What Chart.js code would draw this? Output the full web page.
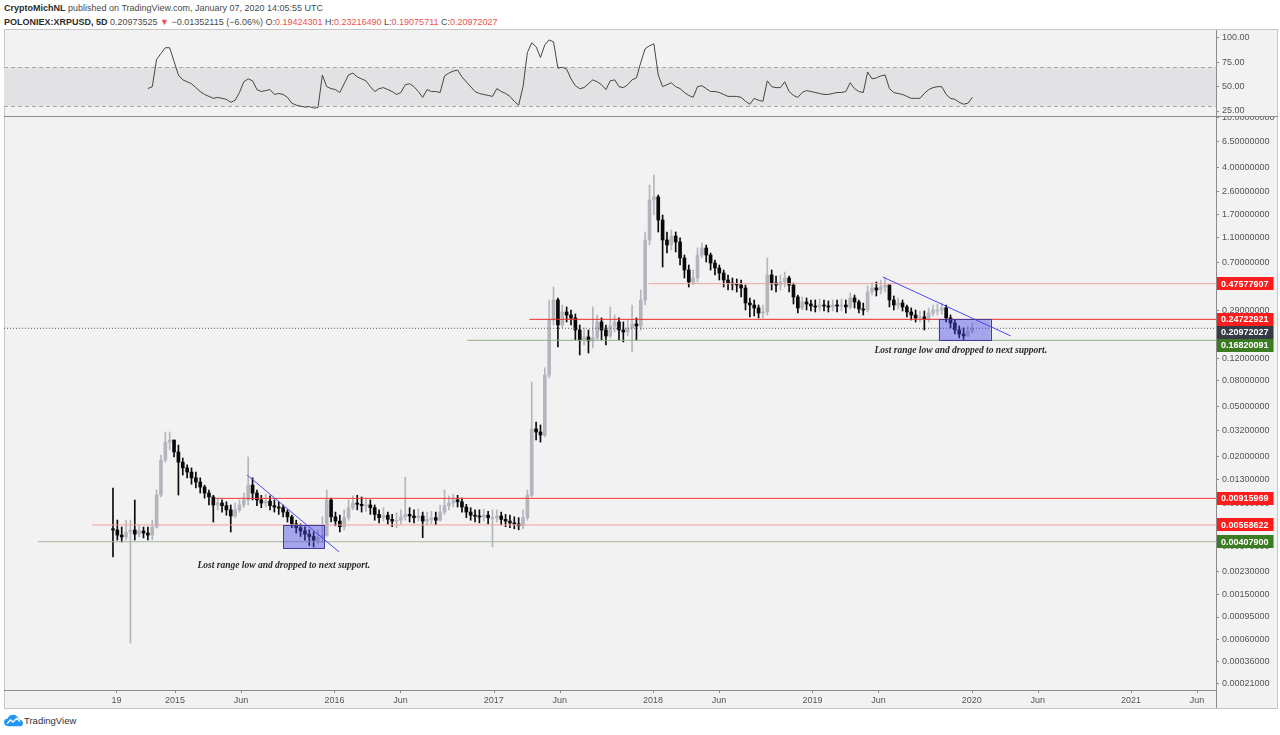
<!DOCTYPE html>
<html>
<head>
<meta charset="utf-8">
<script src="https://cdn.jsdelivr.net/npm/chart.js@4.4.1/dist/chart.umd.min.js"></script>
<style>
  body { margin: 0; width: 1280px; height: 735px; background: #fff; overflow: hidden; position: relative;
         font-family: "Liberation Sans", Arial, sans-serif; }
  .hdr { position: absolute; left: 4px; font-size: 9px; line-height: 12px; color: #4a4a4a; white-space: nowrap; }
  .hdr b { color: #2b2b2b; }
  .red { color: #f0504d; }
  #frame { position: absolute; left: 4px; top: 29px; width: 1274px; height: 680px; background: #f2f2f2;
           border: 1px solid #c6c6c6; box-sizing: border-box; }
  .ln { position: absolute; background: #8c8c8c; }
  canvas { position: absolute; left: 4px; }
  #logo { position: absolute; left: 4px; top: 714px; }
  #logoTxt { position: absolute; left: 24px; top: 715px; font-size: 9.5px; color: #333; }
</style>
</head>
<body>
<div class="hdr" style="top:2px"><b>CryptoMichNL</b> published on TradingView.com, January 07, 2020 14:05:55 UTC</div>
<div class="hdr" style="top:16px"><b>POLONIEX:XRPUSD, 5D</b> 0.20973525 <span class="red">▼</span> −0.01352115 (−6.06%) O:<span class="red">0.19424301</span> H:<span class="red">0.23216490</span> L:<span class="red">0.19075711</span> C:<span class="red">0.20972027</span></div>
<div id="frame"></div>
<canvas id="rsi" width="1274" height="87" style="top:30px"></canvas>
<canvas id="main" width="1274" height="591" style="top:117px"></canvas>
<div class="ln" style="left:4px;top:116px;width:1274px;height:1px"></div>
<div class="ln" style="left:1216px;top:690px;width:1px;height:18px"></div>
<svg id="logo" width="19" height="13" viewBox="0 0 36 24">
  <path d="M8 23C3 23 0 19 0 15C0 11 3 8 7 8C9 3 13 1 17 1C23 1 27 5 28 10C32 10 36 13 36 17C36 21 33 23 30 23Z" fill="#2196f3"/>
  <polyline points="6,18 12,11 17,15 24,8 30,14" fill="none" stroke="#fff" stroke-width="2.6"/>
</svg>
<div id="logoTxt">TradingView</div>

<script>
// ---- data (XRPUSD, Poloniex) ----
const firstBarYear = 2014.61;
const barStepDays = 10;
const firstOpen = 0.0052;

const closes = [
  0.00508, 0.00462, 0.00446, 0.00489, 0.00508, 0.00471, 0.00499, 0.0048, 0.00462, 0.00537,
  0.00974, 0.0186, 0.0259, 0.0269, 0.0216, 0.0179, 0.0161, 0.0149, 0.0134, 0.0124,
  0.0113, 0.0101, 0.0094, 0.0081, 0.0084, 0.0080, 0.0074, 0.0066, 0.0074, 0.0081,
  0.0089, 0.0117, 0.0101, 0.0089, 0.0084, 0.0087, 0.0080, 0.0078, 0.0077, 0.0071,
  0.0065, 0.0057, 0.0053, 0.0050, 0.0047, 0.0045, 0.0042, 0.0044, 0.0046, 0.0089,
  0.0065, 0.0060, 0.0054, 0.0064, 0.0077, 0.0084, 0.0082, 0.0080, 0.0081, 0.0077,
  0.0068, 0.0064, 0.0067, 0.0062, 0.0060, 0.0061, 0.0065, 0.0068, 0.0066, 0.0064,
  0.0066, 0.0060, 0.0062, 0.0064, 0.0061, 0.0071, 0.0080, 0.0084, 0.0089, 0.0086,
  0.0078, 0.0071, 0.0067, 0.0066, 0.0065, 0.0067, 0.0064, 0.0064, 0.0066, 0.0062,
  0.0060, 0.0058, 0.0057, 0.0055, 0.0064, 0.0097, 0.0330, 0.0312, 0.0295, 0.0890,
  0.2443, 0.3526, 0.2228, 0.2829, 0.2677, 0.2536, 0.2033, 0.1692, 0.1789, 0.1662,
  0.1757, 0.2355, 0.2033, 0.1822, 0.2189, 0.2355, 0.2033, 0.1960, 0.2111, 0.2270,
  0.2189, 0.3526, 1.060, 2.209, 2.336, 1.530, 1.060, 0.967, 1.141, 1.022,
  0.7626, 0.6114, 0.4906, 0.5280, 0.8050, 0.9158, 0.8050, 0.6950, 0.6347, 0.5784,
  0.5089, 0.4814, 0.4728, 0.4641, 0.4397, 0.3336, 0.3216, 0.3047, 0.2777, 0.2829,
  0.5576, 0.4814, 0.4641, 0.4906, 0.5280, 0.4641, 0.3728, 0.3047, 0.3399, 0.3276,
  0.3159, 0.3103, 0.3216, 0.3159, 0.3103, 0.3216, 0.3159, 0.3216, 0.3103, 0.3660,
  0.3399, 0.2990, 0.2935, 0.4083, 0.4397, 0.4236, 0.4478, 0.4641, 0.3526, 0.3216,
  0.3336, 0.3103, 0.2829, 0.2677, 0.2536, 0.2583, 0.2489, 0.2777, 0.2935, 0.2935,
  0.3047, 0.2536, 0.2311, 0.2033, 0.1889, 0.1822, 0.1996, 0.20972027
];
const highs = [
  0.0111, 0.00612, 0.00537, 0.00612, 0.00612, 0.00888, 0.00557, 0.00537, 0.00537, 0.00612,
  0.01069, 0.0204, 0.0312, 0.0312, 0.0269, 0.0245, 0.0193, 0.0170, 0.0161, 0.0149,
  0.0134, 0.0117, 0.0107, 0.0097, 0.0092, 0.0089, 0.0086, 0.0081, 0.0084, 0.0089,
  0.0101, 0.0197, 0.0134, 0.0107, 0.0097, 0.0099, 0.0096, 0.0089, 0.0086, 0.0081,
  0.0074, 0.0067, 0.0061, 0.0057, 0.0054, 0.0051, 0.0049, 0.0051, 0.0065, 0.0107,
  0.0092, 0.0071, 0.0067, 0.0074, 0.0089, 0.0096, 0.0097, 0.0094, 0.0092, 0.0089,
  0.0081, 0.0074, 0.0077, 0.0071, 0.0068, 0.0070, 0.0074, 0.0136, 0.0077, 0.0074,
  0.0075, 0.0071, 0.0071, 0.0072, 0.0071, 0.0081, 0.0107, 0.0096, 0.0099, 0.0097,
  0.0092, 0.0082, 0.0077, 0.0074, 0.0074, 0.0075, 0.0072, 0.0074, 0.0074, 0.0071,
  0.0068, 0.0067, 0.0065, 0.0064, 0.0074, 0.0107, 0.0783, 0.0375, 0.0355, 0.1013,
  0.3526, 0.4478, 0.3660, 0.3216, 0.3103, 0.2935, 0.2727, 0.2228, 0.2111, 0.2033,
  0.3103, 0.2677, 0.2536, 0.2228, 0.3103, 0.2677, 0.2536, 0.2355, 0.2443, 0.3216,
  0.2536, 0.4236, 1.228, 2.907, 3.493, 2.420, 1.677, 1.228, 1.274, 1.228,
  1.101, 0.805, 0.670, 0.6114, 0.9158, 1.003, 0.967, 0.835, 0.7346, 0.670,
  0.6114, 0.5576, 0.5280, 0.5185, 0.5089, 0.4641, 0.3660, 0.3526, 0.3216, 0.3216,
  0.7626, 0.6114, 0.5478, 0.5576, 0.5894, 0.5478, 0.4814, 0.3863, 0.3728, 0.3660,
  0.3526, 0.3526, 0.3592, 0.3526, 0.3463, 0.3526, 0.3526, 0.3592, 0.3526, 0.4007,
  0.3863, 0.3526, 0.3336, 0.4560, 0.4814, 0.4906, 0.5089, 0.5380, 0.4641, 0.3795,
  0.3660, 0.3526, 0.3216, 0.3047, 0.2935, 0.2882, 0.2882, 0.3047, 0.3216, 0.3276,
  0.3336, 0.3216, 0.2677, 0.2443, 0.2189, 0.2111, 0.2189, 0.23216490
];
const lows = [
  0.00306, 0.00421, 0.00405, 0.00421, 0.00055, 0.00421, 0.00446, 0.00438, 0.00421, 0.00421,
  0.00527, 0.0094, 0.0179, 0.0224, 0.0197, 0.00974, 0.0141, 0.0134, 0.0119, 0.0111,
  0.0101, 0.0092, 0.0081, 0.0059, 0.0074, 0.0071, 0.0067, 0.00489, 0.0064, 0.0071,
  0.0077, 0.0081, 0.0089, 0.0080, 0.0077, 0.0078, 0.0074, 0.0071, 0.0068, 0.0065,
  0.0059, 0.0053, 0.0048, 0.0045, 0.0042, 0.0038, 0.0037, 0.0039, 0.0040, 0.0045,
  0.0059, 0.0055, 0.0049, 0.0051, 0.0061, 0.0074, 0.0074, 0.0071, 0.0072, 0.0068,
  0.0061, 0.0058, 0.0060, 0.0057, 0.0054, 0.0053, 0.0057, 0.0061, 0.0059, 0.0058,
  0.0060, 0.0044, 0.0056, 0.0057, 0.0056, 0.0060, 0.0068, 0.0074, 0.0078, 0.0078,
  0.0071, 0.0064, 0.0061, 0.0059, 0.0058, 0.0060, 0.0057, 0.0037, 0.0059, 0.0056,
  0.0054, 0.0053, 0.0052, 0.0051, 0.0052, 0.0061, 0.0094, 0.0269, 0.0259, 0.0285,
  0.0843, 0.2228, 0.1489, 0.2111, 0.2355, 0.2228, 0.1692, 0.1285, 0.1543, 0.1333,
  0.1462, 0.1700, 0.1692, 0.1543, 0.1757, 0.1960, 0.1692, 0.1631, 0.1822, 0.1358,
  0.1692, 0.2033, 0.3216, 0.967, 1.677, 1.228, 0.6464, 0.835, 0.8826, 0.851,
  0.670, 0.528, 0.4478, 0.4641, 0.4906, 0.7626, 0.708, 0.6114, 0.5576, 0.5089,
  0.4478, 0.4236, 0.4236, 0.4083, 0.3728, 0.2935, 0.2583, 0.2630, 0.2536, 0.2536,
  0.2677, 0.4236, 0.4083, 0.4236, 0.4478, 0.4083, 0.3276, 0.2777, 0.2935, 0.2935,
  0.2882, 0.2829, 0.2882, 0.2882, 0.2829, 0.2882, 0.2829, 0.2882, 0.2777, 0.2990,
  0.3047, 0.2777, 0.2677, 0.2829, 0.3863, 0.3795, 0.3935, 0.4083, 0.3103, 0.2935,
  0.2990, 0.2882, 0.2583, 0.2443, 0.2355, 0.2355, 0.2033, 0.2355, 0.2630, 0.2677,
  0.2727, 0.2355, 0.2111, 0.1889, 0.1757, 0.1692, 0.1789, 0.19075711
];
// RSI (14) per bar
const rsi = [
  null, null, null, null, null, null, null, null, 48, 50,
  78, 84, 90, 90, 76, 62, 57, 55, 53, 49,
  45, 42, 40, 38, 39, 38, 37, 34, 36, 44,
  55, 58, 56, 47, 45, 46, 47, 42, 43, 42,
  39, 33, 31, 30, 29, 29.5, 28, 28.5, 62, 50,
  48, 47, 44, 53, 62, 64, 60, 58, 56, 50,
  45, 48, 49, 47, 45, 42, 44, 52, 53, 50,
  45, 39, 47, 45, 45, 44, 61, 64, 66, 67,
  60, 55, 50, 45, 43, 42, 41, 40, 48, 45,
  43, 40, 35, 31, 50, 85, 95, 91, 80, 93,
  98, 96, 69, 70, 68, 58, 51, 48, 49, 53,
  57, 55, 52, 47, 56, 57, 50, 49, 52, 57,
  59, 75, 89, 92, 94, 62, 50, 52, 54, 50,
  48, 44, 41, 39, 50, 51, 48, 45, 45, 44,
  42, 40, 40, 40, 39, 35, 32, 38, 36, 35,
  56, 50, 49, 49, 55, 45, 41, 39, 44, 46,
  45, 44, 43, 42, 42, 43, 44, 44, 45, 54,
  48, 45, 44, 65, 58, 59, 61, 62, 48, 44,
  43, 42, 40, 38, 38, 38, 43, 47, 49, 50,
  50, 42, 38, 37, 34, 32, 33, 39
];

const priceTicks = [10, 6.5, 4, 2.6, 1.7, 1.1, 0.7, 0.29, 0.12, 0.08, 0.05, 0.032, 0.02, 0.013,
                    0.0083, 0.0037, 0.0023, 0.0015, 0.00095, 0.0006, 0.00036, 0.00021];
const rsiTicks = [100, 75, 50, 25];
const xTickYears = [2014.632, 2015, 2015.414, 2016, 2016.414, 2017, 2017.414, 2018, 2018.414,
                    2019, 2019.414, 2020, 2020.414, 2021, 2021.414];
const xTickLabels = ['19', '2015', 'Jun', '2016', 'Jun', '2017', 'Jun', '2018', 'Jun',
                     '2019', 'Jun', '2020', 'Jun', '2021', 'Jun'];

// drawings on the chart
const levelPrices = [0.47577907, 0.24722921, 0.16820091, 0.00915969, 0.00558622, 0.00407900];
const levelFrom = [2017.971, 2017.224, 2016.834, 2015.251, 2014.479, 2014.139];
const lastPrice = 0.20972027;
const trendStartYear = [2015.452, 2019.441];
const trendStartPrice = [0.0141, 0.538];
const trendEndYear = [2016.030, 2020.245];
const trendEndPrice = [0.00336, 0.1822];
const boxFrom = [2015.678, 2019.793];
const boxTo = [2015.936, 2020.119];
const boxHigh = [0.00558622, 0.24722921];
const boxLow = [0.0036, 0.16820091];
const noteText = 'Lost range low and dropped to next support.';
const noteYear = [2015.682, 2019.931];
const notePrice = [0.00258, 0.1384];

// ---- styles ----
const X_MIN = 2013.926, X_MAX = 2021.533;
const Y_MIN = -3.5605, Y_MAX = 1.0056;   // log10(price + 0.0001) range of the price pane
const levelColors = ['#f4a3a3', '#f02a2a', '#93ad88', '#f03a3a', '#f4a0a0', '#a5b59c'];
const tagColors = ['#ff1c1c', '#ff1c1c', '#3b7b22', '#ff1c1c', '#ff1c1c', '#3b7b22'];
const upCol = '#b4b6be', downCol = '#0a0a0a';
const axisFont = { family: 'Liberation Sans', size: 9 };

const tf = p => Math.log10(p + 0.0001);   // TradingView log scale
const years = closes.map((c, i) => firstBarYear + i * barStepDays / 365.25);
const opens = closes.map((c, i) => i === 0 ? firstOpen : closes[i - 1]);
const barCols = closes.map((c, i) => c >= opens[i] ? upCol : downCol);

const drawings = {
  id: 'drawings',
  afterDatasetsDraw(chart) {
    const { ctx, chartArea: a, scales: { x, y } } = chart;
    ctx.save();
    ctx.beginPath();
    ctx.rect(a.left, a.top, a.right - a.left, a.bottom - a.top);
    ctx.clip();
    boxFrom.forEach((b, i) => {
      const x0 = x.getPixelForValue(boxFrom[i]), x1 = x.getPixelForValue(boxTo[i]);
      const y0 = y.getPixelForValue(tf(boxHigh[i])), y1 = y.getPixelForValue(tf(boxLow[i]));
      ctx.fillStyle = 'rgba(72,72,228,0.45)';
      ctx.fillRect(x0, y0, x1 - x0, y1 - y0);
      ctx.strokeStyle = '#3f3f9a';
      ctx.lineWidth = 1;
      ctx.strokeRect(Math.round(x0) + 0.5, Math.round(y0) + 0.5, Math.round(x1 - x0), Math.round(y1 - y0));
    });
    ctx.font = "italic bold 9.5px 'Liberation Serif'";
    ctx.fillStyle = '#2a2a2a';
    ctx.textAlign = 'center';
    ctx.textBaseline = 'middle';
    noteYear.forEach((t, i) => {
      ctx.fillText(noteText, x.getPixelForValue(t), y.getPixelForValue(tf(notePrice[i])));
    });
    ctx.restore();
  },
  afterDraw(chart) {
    const { ctx, chartArea: a, scales: { x, y } } = chart;
    // x-axis tick marks
    ctx.save();
    ctx.strokeStyle = '#8c8c8c';
    ctx.lineWidth = 1;
    xTickYears.forEach(v => {
      const px = Math.round(x.getPixelForValue(v)) + 0.5;
      ctx.beginPath();
      ctx.moveTo(px, a.bottom);
      ctx.lineTo(px, a.bottom + 3);
      ctx.stroke();
    });
    ctx.restore();
    // price tags on the axis
    const tags = levelPrices.map((p, i) => ({ p, c: tagColors[i] }));
    tags.push({ p: lastPrice, c: '#363a45' });
    tags.forEach(t => t.y = y.getPixelForValue(tf(t.p)));
    tags.sort((m, n) => m.y - n.y);
    for (let i = 1; i < tags.length; i++) {
      if (tags[i].y - tags[i - 1].y < 13) tags[i].y = tags[i - 1].y + 13;
    }
    ctx.save();
    ctx.font = "bold 9px 'Liberation Sans'";
    ctx.textBaseline = 'middle';
    tags.forEach(t => {
      const txt = t.p.toFixed(8);
      const w = ctx.measureText(txt).width + 9;
      ctx.fillStyle = t.c;
      ctx.fillRect(a.right + 1, Math.round(t.y - 6.5), w, 13);
      ctx.fillStyle = '#fff';
      ctx.fillText(txt, a.right + 5, t.y + 0.5);
    });
    ctx.restore();
  }
};

const flatLine = (from, price, color, dash) => ({
  type: 'line',
  data: [{ x: from, y: tf(price) }, { x: X_MAX, y: tf(price) }],
  borderColor: color, borderWidth: 1, borderDash: dash || [], pointRadius: 0, order: 1
});

const datasets = [
  {
    type: 'bar', data: years.map((t, i) => ({ x: t, y: [tf(lows[i]), tf(highs[i])] })),
    backgroundColor: barCols, barThickness: 1, grouped: false, order: 5
  },
  {
    type: 'bar', data: years.map((t, i) => ({ x: t, y: [tf(opens[i]), tf(closes[i])] })),
    backgroundColor: barCols, barThickness: 3, minBarLength: 1, grouped: false, order: 4
  },
  flatLine(X_MIN, lastPrice, '#5a5a5a', [1, 2])
];
levelPrices.forEach((p, i) => datasets.push(flatLine(levelFrom[i], p, levelColors[i])));
trendStartYear.forEach((t, i) => datasets.push({
  type: 'line',
  data: [{ x: t, y: tf(trendStartPrice[i]) }, { x: trendEndYear[i], y: tf(trendEndPrice[i]) }],
  borderColor: '#4a4af2', borderWidth: 1, pointRadius: 0, order: 0
}));

new Chart(document.getElementById('main'), {
  type: 'bar',
  data: { datasets },
  options: {
    responsive: false, animation: false, devicePixelRatio: 1,
    layout: { padding: 0, autoPadding: false },
    plugins: { legend: { display: false }, tooltip: { enabled: false } },
    scales: {
      x: {
        type: 'linear', min: X_MIN, max: X_MAX, offset: false,
        grid: { display: false, drawTicks: false },
        border: { display: true, color: '#8c8c8c' },
        ticks: { font: axisFont, color: '#555', padding: 5, maxRotation: 0, autoSkip: false,
                 callback: (v, i) => xTickLabels[i] },
        afterBuildTicks: s => { s.ticks = xTickYears.map(v => ({ value: v })); },
        afterFit: s => { s.height = 18; s.paddingLeft = 0; s.paddingRight = 0; }
      },
      y: {
        type: 'linear', position: 'right', min: Y_MIN, max: Y_MAX,
        grid: { drawOnChartArea: false, drawTicks: true, tickLength: 3, color: '#8c8c8c' },
        border: { color: '#8c8c8c' },
        ticks: { font: axisFont, color: '#555', padding: 3, autoSkip: false,
                 callback: (v, i) => priceTicks[i].toFixed(8) },
        afterBuildTicks: s => { s.ticks = priceTicks.map(p => ({ value: tf(p) })); },
        afterFit: s => { s.width = 62; s.paddingTop = 0; s.paddingBottom = 0; }
      }
    }
  },
  plugins: [drawings]
});

const rsiBand = {
  id: 'rsiBand',
  beforeDatasetsDraw(chart) {
    const { ctx, chartArea: a, scales: { y } } = chart;
    const y70 = y.getPixelForValue(70), y30 = y.getPixelForValue(30);
    ctx.save();
    ctx.fillStyle = '#e2e2e4';
    ctx.fillRect(a.left, y70, a.right - a.left, y30 - y70);
    ctx.strokeStyle = '#a8a8a8';
    ctx.lineWidth = 1;
    ctx.setLineDash([4, 3]);
    [y70, y30].forEach(v => {
      ctx.beginPath();
      ctx.moveTo(a.left, Math.round(v) + 0.5);
      ctx.lineTo(a.right, Math.round(v) + 0.5);
      ctx.stroke();
    });
    ctx.restore();
  }
};

new Chart(document.getElementById('rsi'), {
  type: 'line',
  data: { datasets: [{
    data: years.map((t, i) => ({ x: t, y: rsi[i] })),
    borderColor: '#454545', borderWidth: 1, pointRadius: 0, tension: 0
  }] },
  options: {
    responsive: false, animation: false, devicePixelRatio: 1,
    layout: { padding: 0, autoPadding: false },
    plugins: { legend: { display: false }, tooltip: { enabled: false } },
    scales: {
      x: { type: 'linear', min: X_MIN, max: X_MAX, display: false },
      y: {
        position: 'right', min: 18.84, max: 108.2,
        grid: { drawOnChartArea: false, drawTicks: true, tickLength: 3, color: '#8c8c8c' },
        border: { color: '#8c8c8c' },
        ticks: { font: axisFont, color: '#555', padding: 3, autoSkip: false,
                 callback: v => v.toFixed(2) },
        afterBuildTicks: s => { s.ticks = rsiTicks.map(v => ({ value: v })); },
        afterFit: s => { s.width = 62; s.paddingTop = 0; s.paddingBottom = 0; }
      }
    }
  },
  plugins: [rsiBand]
});
</script>
</body>
</html>
